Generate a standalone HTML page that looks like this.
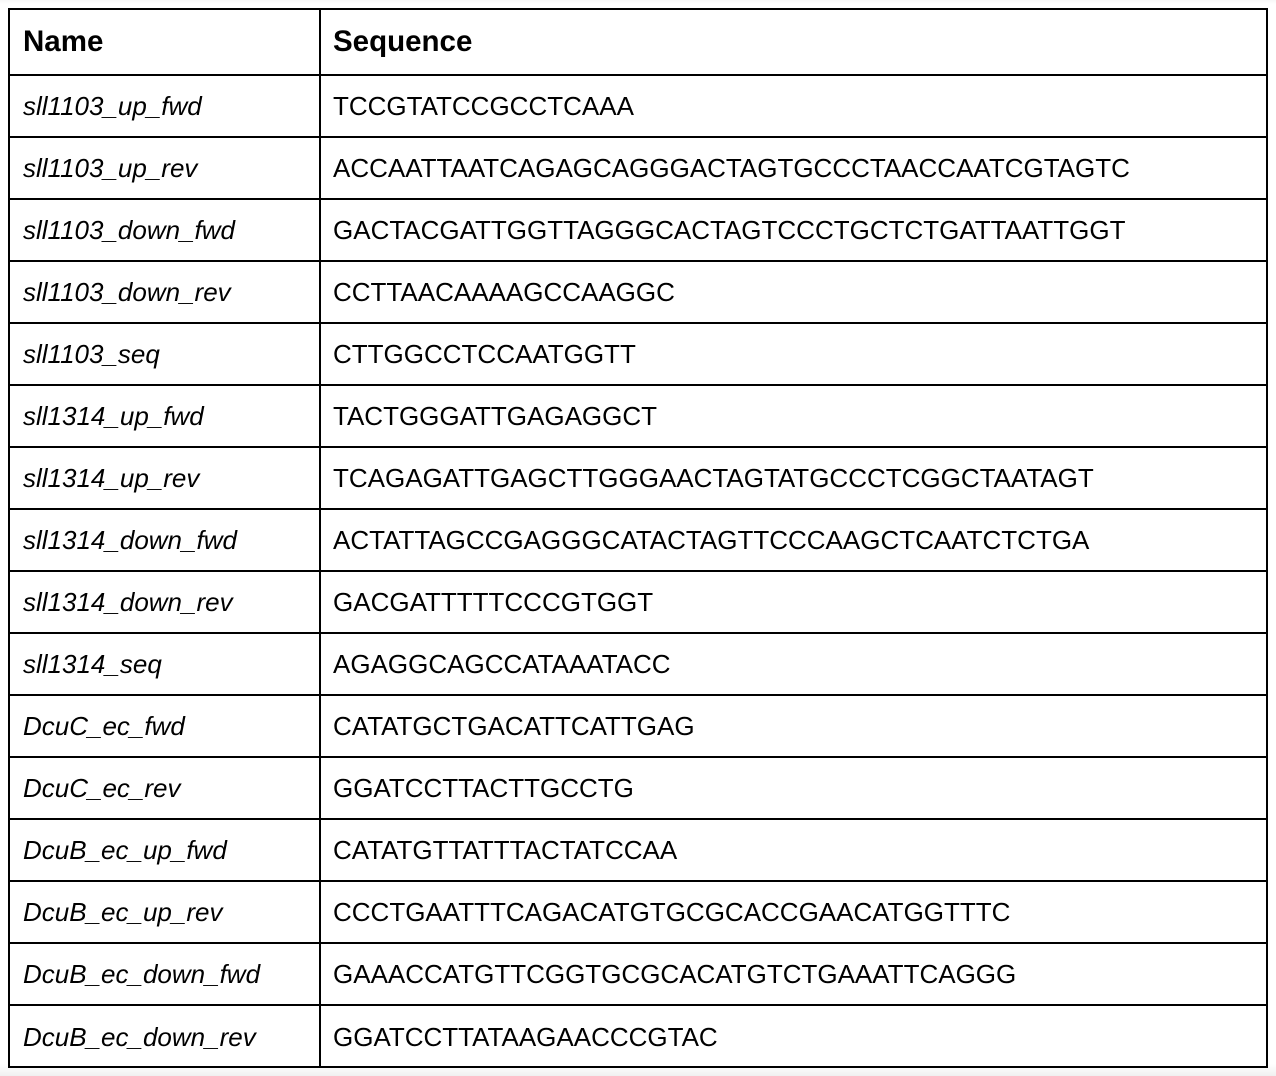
<!DOCTYPE html>
<html><head><meta charset="utf-8"><style>
html,body{margin:0;padding:0;background:#f7f7f7;}
#wrap{position:relative;width:1276px;height:1076px;overflow:hidden;background:linear-gradient(#f7f7f7,#fff 4px,#fff 1064px,#f0f0f0);font-family:"Liberation Sans",Arial,sans-serif;color:#000;}
#tbl{position:absolute;left:8px;top:8px;width:1256px;height:1056px;border:2px solid #000;background:#fff;}
.row{position:absolute;left:0;width:1256px;border-bottom:2px solid #000;box-sizing:border-box;}
.cell{position:absolute;top:0;bottom:0;display:flex;align-items:center;font-size:26px;white-space:nowrap;}
.n{left:13px;font-style:italic;}
.s{left:323px;}
.h .cell{font-weight:bold;font-size:29.5px;}
#vline{position:absolute;left:309px;top:0;width:2px;height:1056px;background:#000;}
</style></head><body>
<div id="wrap">
<div id="tbl">
<div id="vline"></div>
</div>
</div>
<script>
const names=["sll1103_up_fwd","sll1103_up_rev","sll1103_down_fwd","sll1103_down_rev","sll1103_seq","sll1314_up_fwd","sll1314_up_rev","sll1314_down_fwd","sll1314_down_rev","sll1314_seq","DcuC_ec_fwd","DcuC_ec_rev","DcuB_ec_up_fwd","DcuB_ec_up_rev","DcuB_ec_down_fwd","DcuB_ec_down_rev"];
const seqs=["TCCGTATCCGCCTCAAA","ACCAATTAATCAGAGCAGGGACTAGTGCCCTAACCAATCGTAGTC","GACTACGATTGGTTAGGGCACTAGTCCCTGCTCTGATTAATTGGT","CCTTAACAAAAGCCAAGGC","CTTGGCCTCCAATGGTT","TACTGGGATTGAGAGGCT","TCAGAGATTGAGCTTGGGAACTAGTATGCCCTCGGCTAATAGT","ACTATTAGCCGAGGGCATACTAGTTCCCAAGCTCAATCTCTGA","GACGATTTTTCCCGTGGT","AGAGGCAGCCATAAATACC","CATATGCTGACATTCATTGAG","GGATCCTTACTTGCCTG","CATATGTTATTTACTATCCAA","CCCTGAATTTCAGACATGTGCGCACCGAACATGGTTTC","GAAACCATGTTCGGTGCGCACATGTCTGAAATTCAGGG","GGATCCTTATAAGAACCCGTAC"];
const tbl=document.getElementById('tbl');
function mk(top,h,a,b,hdr,last){
 const r=document.createElement('div');
 r.className='row'+(hdr?' h':'');
 r.style.top=top+'px';r.style.height=h+'px';
 if(last)r.style.borderBottom='none';
 
 
 const c1=document.createElement('div');c1.className='cell n';c1.textContent=a;
 if(hdr)c1.style.fontStyle='normal';
 
 
 const c2=document.createElement('div');c2.className='cell s';c2.textContent=b;
 
 
 r.appendChild(c1);r.appendChild(c2);tbl.appendChild(r);
}
mk(0,66,"Name","Sequence",true,false);
for(let i=0;i<names.length;i++){mk(66+i*62,62,names[i],seqs[i],false,i==names.length-1);}
</script>
</body></html>
